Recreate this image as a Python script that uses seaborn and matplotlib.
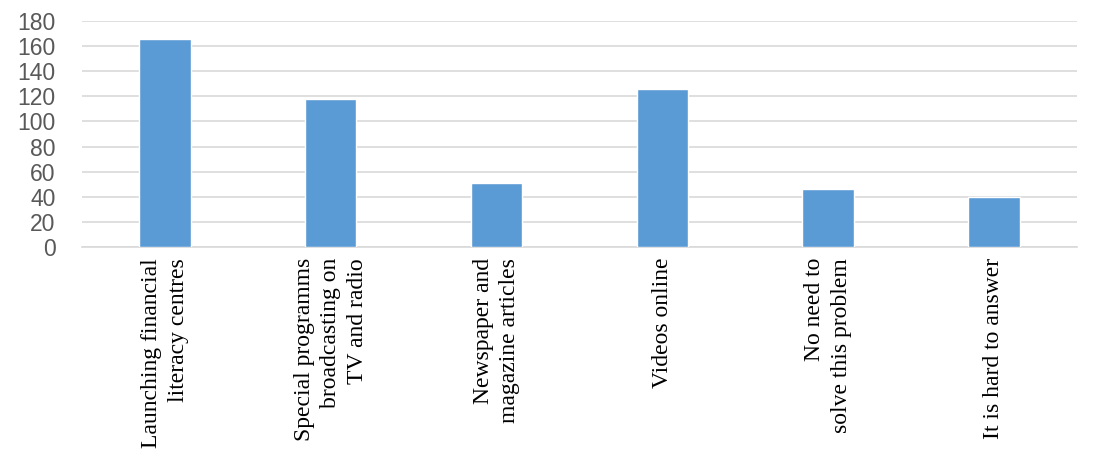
import matplotlib
matplotlib.use("Agg")
import matplotlib.pyplot as plt
import seaborn as sns
import pandas as pd

# data
categories = [
    "Launching financial\nliteracy centres",
    "Special programms\nbroadcasting on\nTV and radio",
    "Newspaper and\nmagazine articles",
    "Videos online",
    "No need to\nsolve this problem",
    "It is hard to answer",
]
counts = [166, 118, 51, 126, 46, 40]
y_ticks = [0, 20, 40, 60, 80, 100, 120, 140, 160, 180]

df = pd.DataFrame({"answer": categories, "count": counts})

sns.set_style("white")
fig, ax = plt.subplots(figsize=(11, 4.71), dpi=100)
fig.subplots_adjust(left=0.0745, right=0.979, top=0.955, bottom=0.476)

sns.barplot(data=df, x="answer", y="count", color="#5B9BD5", width=0.31,
            saturation=1, ax=ax, zorder=3)

ax.set_ylim(0, 180)
ax.set_yticks(y_ticks)
ax.yaxis.grid(True, color="#D9D9D9", linewidth=1.2, zorder=0)
ax.set_axisbelow(True)
for s in ["top", "right", "left"]:
    ax.spines[s].set_visible(False)
ax.spines["bottom"].set_color("#D9D9D9")
ax.spines["bottom"].set_linewidth(1.2)

ax.set_xlabel("")
ax.set_ylabel("")
ax.tick_params(axis="y", length=0, pad=19, labelcolor="#595959", labelsize=16.5)
ax.tick_params(axis="x", length=0, pad=8)
for lbl in ax.get_yticklabels():
    lbl.set_fontfamily("Liberation Sans")
for lbl in ax.get_xticklabels():
    lbl.set_fontfamily("Liberation Serif")
    lbl.set_fontsize(17)
    lbl.set_rotation(90)
    lbl.set_ha("center")
    lbl.set_va("top")
    lbl.set_multialignment("right")
    lbl.set_linespacing(1.35)
    lbl.set_color("black")

plt.savefig("out.png", dpi=100)
